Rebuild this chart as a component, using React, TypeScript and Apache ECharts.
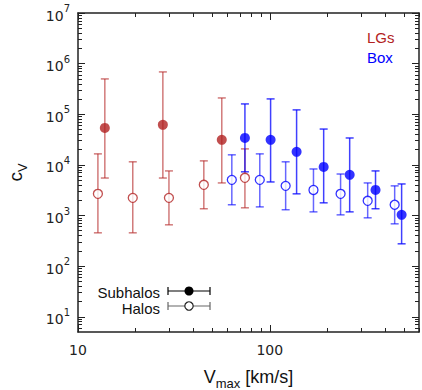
import React, { useEffect, useRef } from "react";
import * as echarts from "echarts";

// LGs subhalos (filled red)
const lgSubV = [13.8, 27.7, 56.2];
const lgSubC = [53700, 61700, 31200];
const lgSubLo = [5500, 5500, 4400];
const lgSubHi = [499000, 686000, 210000];

// LGs halos (open red)
const lgHaloV = [12.7, 19.3, 29.8, 45.3, 74.2];
const lgHaloC = [2680, 2230, 2230, 4040, 5550];
const lgHaloLo = [455, 455, 655, 1360, 1420];
const lgHaloHi = [16500, 11500, 7600, 12000, 20700];

// Box subhalos (filled blue)
const boxSubV = [74.2, 101, 138, 191, 261, 356, 487];
const boxSubC = [34100, 31200, 18100, 9100, 6350, 3200, 1030];
const boxSubLo = [7300, 4600, 2680, 1780, 1180, 1360, 276];
const boxSubHi = [160000, 201000, 122000, 51000, 34000, 7600, 4200];

// Box halos (open blue)
const boxHaloV = [63.4, 88.7, 121, 169, 234, 324, 448];
const boxHaloC = [5060, 5060, 3850, 3200, 2680, 1950, 1630];
const boxHaloLo = [1630, 1480, 1300, 1180, 1030, 900, 685];
const boxHaloHi = [15800, 16500, 11500, 8300, 6600, 4400, 3850];

// axis ticks
const xMajor = [10, 100];
const xMinor = [20, 30, 40, 50, 60, 70, 80, 90, 200, 300, 400, 500, 600];
const yMajor = [10, 100, 1000, 10000, 100000, 1000000, 10000000];
const yMinor = [
  6, 7, 8, 9,
  20, 30, 40, 50, 60, 70, 80, 90,
  200, 300, 400, 500, 600, 700, 800, 900,
  2000, 3000, 4000, 5000, 6000, 7000, 8000, 9000,
  20000, 30000, 40000, 50000, 60000, 70000, 80000, 90000,
  200000, 300000, 400000, 500000, 600000, 700000, 800000, 900000,
  2000000, 3000000, 4000000, 5000000, 6000000, 7000000, 8000000, 9000000,
];

const RED = "#b22222";
const BLUE = "#0000ff";
const AX = "#222";
const FONT = "Liberation Sans";

function errData(v: number[], lo: number[], hi: number[]) {
  return v.map((x, i) => [x, lo[i], hi[i]]);
}
function ptData(v: number[], c: number[]) {
  return v.map((x, i) => [x, c[i]]);
}

function errSeries(data: number[][], color: string) {
  return {
    type: "custom",
    data,
    encode: { x: 0, y: [1, 2] },
    z: 2,
    renderItem: (params: any, api: any) => {
      const x = api.value(0);
      const a = api.coord([x, api.value(1)]);
      const b = api.coord([x, api.value(2)]);
      const w = 4;
      const st = { stroke: color, lineWidth: 1.5 };
      return {
        type: "group",
        children: [
          { type: "line", shape: { x1: a[0], y1: a[1], x2: b[0], y2: b[1] }, style: st },
          { type: "line", shape: { x1: a[0] - w, y1: a[1], x2: a[0] + w, y2: a[1] }, style: st },
          { type: "line", shape: { x1: b[0] - w, y1: b[1], x2: b[0] + w, y2: b[1] }, style: st },
        ],
      };
    },
  };
}

function axisBase(type: "x" | "y", position: string, major: boolean, showLine: boolean, showLabel: boolean) {
  const isX = type === "x";
  const vals = isX ? (major ? xMajor : xMinor) : major ? yMajor : yMinor;
  return {
    type: "log",
    logBase: 10,
    min: isX ? 10 : 5,
    max: isX ? 600 : 10000000,
    position,
    axisLine: { show: showLine, onZero: false, lineStyle: { color: AX, width: 1.5 } },
    axisTick: {
      show: true,
      inside: true,
      length: major ? 7 : 4,
      customValues: vals,
      lineStyle: { color: AX, width: 1 },
    },
    minorTick: { show: false },
    splitLine: { show: false },
    axisLabel: showLabel
      ? isX
        ? {
            show: true,
            customValues: xMajor,
            fontSize: 14,
            fontFamily: "DejaVu Sans",
            color: AX,
            margin: 11,
          }
        : {
            show: true,
            customValues: yMajor,
            margin: 8,
            color: AX,
            formatter: (v: number) => `{b|10}{e|${Math.round(Math.log10(v))}}`,
            rich: {
              b: { fontSize: 14, fontFamily: "DejaVu Sans", color: AX, lineHeight: 19, verticalAlign: "bottom" },
              e: { fontSize: 10, fontFamily: "DejaVu Sans", color: AX, lineHeight: 12, verticalAlign: "top" },
            },
          }
      : { show: false },
  };
}

export default function App() {
  const ref = useRef<HTMLDivElement>(null);
  useEffect(() => {
    if (!ref.current) return;
    const chart = echarts.init(ref.current, null, { renderer: "svg" });
    const xBottom: any = axisBase("x", "bottom", true, true, true);
    xBottom.name = "{v|V}{s|max}{n| [km/s]}";
    xBottom.nameLocation = "middle";
    xBottom.nameGap = 38;
    xBottom.nameTextStyle = {
      rich: {
        v: { fontSize: 18, fontFamily: FONT, color: "#111", verticalAlign: "bottom", lineHeight: 20, padding: [0, 0, 4, 0] },
        s: { fontSize: 13, fontFamily: FONT, color: "#111", verticalAlign: "bottom", lineHeight: 15 },
        n: { fontSize: 18, fontFamily: FONT, color: "#111", verticalAlign: "bottom", lineHeight: 20, padding: [0, 0, 4, 0] },
      },
    };
    const yLeft: any = axisBase("y", "left", true, true, true);
    yLeft.name = "{c|c}{s|V}";
    yLeft.nameLocation = "middle";
    yLeft.nameGap = 49;
    yLeft.nameRotate = 90;
    yLeft.nameTextStyle = {
      rich: {
        c: { fontSize: 19, fontFamily: FONT, color: "#111", verticalAlign: "bottom", lineHeight: 20, padding: [0, 0, 4, 0] },
        s: { fontSize: 13, fontFamily: FONT, color: "#111", verticalAlign: "bottom", lineHeight: 15 },
      },
    };
    const option: any = {
      animation: false,
      backgroundColor: "#fff",
      grid: { left: 78, right: 3, top: 13, bottom: 58, containLabel: false, outerBoundsMode: "none" },
      xAxis: [
        xBottom,
        axisBase("x", "bottom", false, false, false),
        axisBase("x", "top", true, true, false),
        axisBase("x", "top", false, false, false),
      ],
      yAxis: [
        yLeft,
        axisBase("y", "left", false, false, false),
        axisBase("y", "right", true, true, false),
        axisBase("y", "right", false, false, false),
      ],
      series: [
        errSeries(errData(lgHaloV, lgHaloLo, lgHaloHi), "rgba(178,34,34,0.6)"),
        errSeries(errData(boxHaloV, boxHaloLo, boxHaloHi), "rgba(0,0,255,0.6)"),
        errSeries(errData(lgSubV, lgSubLo, lgSubHi), "rgba(178,34,34,0.6)"),
        errSeries(errData(boxSubV, boxSubLo, boxSubHi), "rgba(0,0,255,0.75)"),
        {
          type: "scatter",
          data: ptData(lgHaloV, lgHaloC),
          symbol: "circle",
          symbolSize: 9,
          z: 3,
          itemStyle: { color: "#fff", borderColor: RED, borderWidth: 1.3 },
        },
        {
          type: "scatter",
          data: ptData(boxHaloV, boxHaloC),
          symbol: "circle",
          symbolSize: 9,
          z: 3,
          itemStyle: { color: "#fff", borderColor: BLUE, borderWidth: 1.3 },
        },
        {
          type: "scatter",
          data: ptData(lgSubV, lgSubC),
          symbol: "circle",
          symbolSize: 10,
          z: 4,
          itemStyle: { color: RED },
        },
        {
          type: "scatter",
          data: ptData(boxSubV, boxSubC),
          symbol: "circle",
          symbolSize: 10,
          z: 4,
          itemStyle: { color: BLUE },
        },
      ],
      graphic: [
        { type: "text", x: 367, y: 37, style: { text: "LGs", fill: RED, fontSize: 15, fontFamily: FONT, textAlign: "left", align: "left", textVerticalAlign: "middle", verticalAlign: "middle" } },
        { type: "text", x: 367, y: 57, style: { text: "Box", fill: BLUE, fontSize: 15, fontFamily: FONT, textAlign: "left", align: "left", textVerticalAlign: "middle", verticalAlign: "middle" } },
        { type: "text", x: 160, y: 292, style: { text: "Subhalos", fill: "#111", fontSize: 15, fontFamily: FONT, textAlign: "right", align: "right", textVerticalAlign: "middle", verticalAlign: "middle" } },
        { type: "text", x: 160, y: 308, style: { text: "Halos", fill: "#111", fontSize: 15, fontFamily: FONT, textAlign: "right", align: "right", textVerticalAlign: "middle", verticalAlign: "middle" } },
        { type: "line", shape: { x1: 168, y1: 291, x2: 210, y2: 291 }, style: { stroke: "#000", lineWidth: 1.2 } },
        { type: "line", shape: { x1: 168, y1: 287, x2: 168, y2: 295 }, style: { stroke: "#000", lineWidth: 1.2 } },
        { type: "line", shape: { x1: 210, y1: 287, x2: 210, y2: 295 }, style: { stroke: "#000", lineWidth: 1.2 } },
        { type: "circle", shape: { cx: 189, cy: 291, r: 4.5 }, style: { fill: "#000" } },
        { type: "line", shape: { x1: 168, y1: 306, x2: 210, y2: 306 }, style: { stroke: "#666", lineWidth: 1.2 } },
        { type: "line", shape: { x1: 168, y1: 302, x2: 168, y2: 310 }, style: { stroke: "#666", lineWidth: 1.2 } },
        { type: "line", shape: { x1: 210, y1: 302, x2: 210, y2: 310 }, style: { stroke: "#666", lineWidth: 1.2 } },
        { type: "circle", shape: { cx: 189, cy: 306, r: 4.2 }, style: { fill: "#fff", stroke: "#222", lineWidth: 1.2 } },
      ],
    };
    chart.setOption(option);
    return () => chart.dispose();
  }, []);
  return (
    <div
      ref={ref}
      style={{ position: "fixed", left: 0, top: 0, width: 422, height: 390, background: "#fff" }}
    />
  );
}
